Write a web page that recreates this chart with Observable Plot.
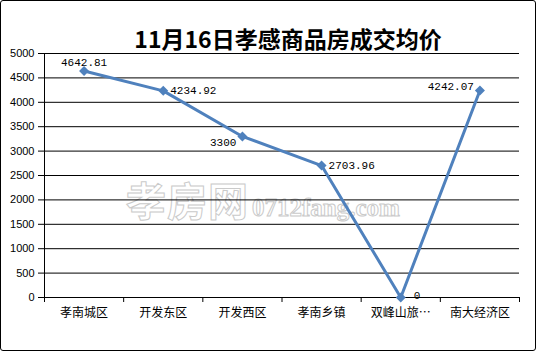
<!DOCTYPE html>
<html><head><meta charset="utf-8">
<script src="https://cdn.jsdelivr.net/npm/d3@7"></script>
<script src="https://cdn.jsdelivr.net/npm/@observablehq/plot@0.6"></script>
<style>
body{margin:0;background:#fff}
#wrap{position:relative;width:537px;height:352px;overflow:hidden;background:#fff}
#chart{position:absolute;left:0;top:0;z-index:1}
#border{position:absolute;left:0;top:0;width:536px;height:351px;box-sizing:border-box;border:1px solid #000;border-radius:3px;pointer-events:none;z-index:2}
#wm{position:absolute;left:126px;top:170px;white-space:nowrap;color:#fff;-webkit-text-stroke:1px #cacaca;z-index:0}
#wm .a{font-family:"Noto Sans CJK SC";font-size:40px;font-weight:bold;letter-spacing:1px}
#wm .b{font-family:"Liberation Serif";font-size:25px;font-weight:bold;margin-left:3px}
</style></head><body>
<div id="wrap"><div id="wm"><span class="a">孝房网</span><span class="b">0712fang.com</span></div><div id="chart"></div><div id="border"></div></div>
<script>
const title = "11月16日孝感商品房成交均价";
const categories = ["孝南城区", "开发东区", "开发西区", "孝南乡镇", "双峰山旅…", "南大经济区"];
const prices = [4642.81, 4234.92, 3300, 2703.96, 0, 4242.07];
const priceLabels = ["4642.81", "4234.92", "3300", "2703.96", "0", "4242.07"];
const yTicks = [0, 500, 1000, 1500, 2000, 2500, 3000, 3500, 4000, 4500, 5000];

const data = categories.map((c, i) => ({i, c, v: prices[i], label: priceLabels[i]}));
const pos = d => d.i + 0.5;
const lineColor = "#4f81bd";
const labelFont = {fontFamily: "Liberation Mono", fontSize: 11, fill: "#000"};

const chart = Plot.plot({
  width: 537, height: 352,
  marginLeft: 44, marginRight: 18, marginTop: 53, marginBottom: 55,
  style: {background: "transparent", fontFamily: "Liberation Sans", fontSize: "11px", color: "#000"},
  x: {type: "linear", domain: [0, categories.length], axis: null},
  y: {domain: [0, 5000], axis: null},
  marks: [
    Plot.gridY(yTicks.slice(1), {stroke: "#000", strokeOpacity: 1}),
    Plot.axisY(yTicks, {tickSize: 6, tickPadding: 4, fontSize: 11, label: null, tickFormat: d => String(d)}),
    Plot.axisX(d3.range(categories.length + 1), {tickSize: 5, label: null, tickFormat: () => ""}),
    Plot.ruleX([0], {stroke: "#000"}),
    Plot.ruleY([0], {stroke: "#000"}),
    Plot.text(data, {x: pos, text: "c", frameAnchor: "bottom", dy: 19, fontFamily: "Noto Sans CJK SC", fontSize: 12, fill: "#000", letterSpacing: 1}),
    Plot.lineY(data, {x: pos, y: "v", stroke: lineColor, strokeWidth: 3}),
    Plot.dot(data, {x: pos, y: "v", symbol: "square", rotate: 45, fill: lineColor, r: 4}),
    Plot.text(data.filter(d => d.i === 0), {x: pos, y: "v", text: "label", textAnchor: "middle", dy: -8, ...labelFont}),
    Plot.text(data.filter(d => d.i === 1 || d.i === 3), {x: pos, y: "v", text: "label", textAnchor: "start", dx: 7, ...labelFont}),
    Plot.text(data.filter(d => d.i === 4), {x: pos, y: "v", text: "label", textAnchor: "start", dx: 13, dy: -2, ...labelFont}),
    Plot.text(data.filter(d => d.i === 2), {x: pos, y: "v", text: "label", textAnchor: "end", dx: -6, dy: 6, ...labelFont}),
    Plot.text(data.filter(d => d.i === 5), {x: pos, y: "v", text: "label", textAnchor: "end", dx: -6, dy: -4, ...labelFont}),
    Plot.text([title], {frameAnchor: "top", dx: 6, dy: -22, fontSize: 23, fontWeight: "bold", fontFamily: "Noto Sans CJK SC", fill: "#000"})
  ]
});
document.getElementById("chart").appendChild(chart);
</script>
</body></html>
